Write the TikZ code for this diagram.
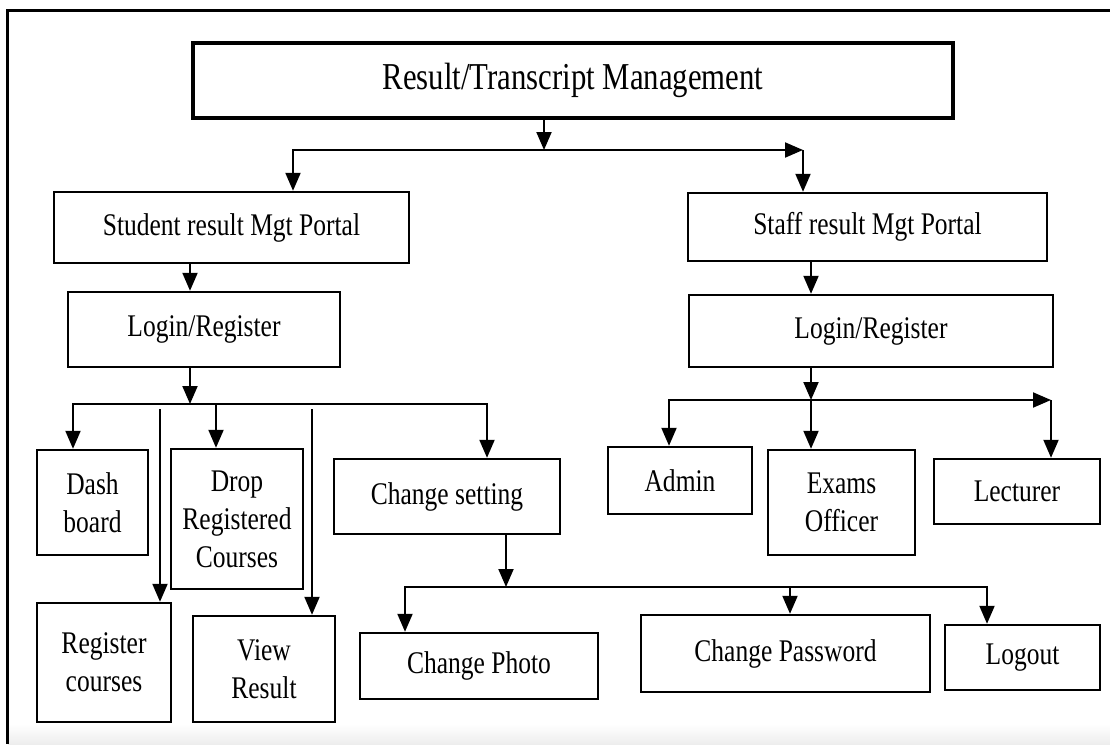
\documentclass[tikz,border=0pt]{standalone}
\usepackage{fontspec}
\setmainfont[FakeStretch=0.81]{Liberation Serif}
\usetikzlibrary{arrows.meta}
\begin{document}
\begin{tikzpicture}[x=1pt,y=-1pt,
  box/.style={draw, line width=2.4pt, inner sep=0pt, align=center,
    font=\fontsize{31.5}{38}\selectfont},
  link/.style={line width=2pt},
  arr/.style={link, -{Triangle[length=18pt,width=15pt]}},
  arrboth/.style={link, {Triangle[length=18pt,width=15pt]}-{Triangle[length=18pt,width=15pt]}},
]
\useasboundingbox (0,0) rectangle (1110,744);
% page frame and faint bottom band
\shade[top color=white, bottom color=black!7] (8,724) rectangle (1110,744);
\draw[line width=3pt] (1110,10) -- (7,10) -- (7,744);

% top level
\node[box, line width=3.4pt, minimum width=760pt, minimum height=75pt,
  font=\fontsize{38}{45}\selectfont] (title) at (573,80.5) {Result/Transcript Management};
\node[box, minimum width=355pt, minimum height=71pt] (student) at (231.5,227.5) {Student result Mgt Portal};
\node[box, minimum width=359pt, minimum height=68pt] (staff) at (867.5,227) {Staff result Mgt Portal};

% student branch
\node[box, minimum width=272pt, minimum height=75pt] (slogin) at (204,329.5) {Login/Register};
\node[box, minimum width=111pt, minimum height=105pt] (dash) at (92.5,502.5) {Dash\\board};
\node[box, minimum width=132pt, minimum height=140pt] (drop) at (237,519) {Drop\\Registered\\Courses};
\node[box, minimum width=226pt, minimum height=75pt] (chset) at (447,496.5) {Change setting};
\node[box, minimum width=134pt, minimum height=119pt] (reg) at (104,662.5) {Register\\courses};
\node[box, minimum width=142pt, minimum height=106pt] (view) at (264,669) {View\\Result};
\node[box, minimum width=238pt, minimum height=66pt] (photo) at (479,666) {Change Photo};
\node[box, minimum width=289pt, minimum height=77pt] (passwd) at (785.5,653.5) {Change Password};
\node[box, minimum width=155pt, minimum height=65pt] (logout) at (1022.5,657.5) {Logout};

% staff branch
\node[box, minimum width=364pt, minimum height=72pt] (tlogin) at (871,331) {Login/Register};
\node[box, minimum width=144pt, minimum height=67pt] (admin) at (680,480.5) {Admin};
\node[box, minimum width=147pt, minimum height=105pt] (exams) at (841.5,502.5) {Exams\\Officer};
\node[box, minimum width=166pt, minimum height=65pt] (lect) at (1017,491.5) {Lecturer};

% junction points on the connector bars
\coordinate (tj) at (544,150);
\coordinate (tl) at (293,150);
\coordinate (tr) at (803,150);
\coordinate (sj) at (190,404);
\coordinate (sl) at (73,404);
\coordinate (sd) at (216,404);
\coordinate (sc) at (487,404);
\coordinate (sr) at (160,409);
\coordinate (sv) at (312,409);
\coordinate (cj) at (506,587);
\coordinate (cl) at (405,587);
\coordinate (cp) at (790,587);
\coordinate (cr) at (987,587);
\coordinate (rj) at (811,400);
\coordinate (rl) at (669,400);
\coordinate (rr) at (1051,400);

% top connectors
\draw[arr] (title.south -| tj) -- (tj);
\draw[arrboth] (student.north -| tl) -- (tl) -- (tr);
\draw[arr] (tr) -- (staff.north -| tr);

% student connectors
\draw[arr] (student.south -| sj) -- (slogin.north -| sj);
\draw[arr] (slogin.south -| sj) -- (sj);
\draw[arrboth] (dash.north -| sl) -- (sl) -- (sc) -- (chset.north -| sc);
\draw[arr] (sd) -- (drop.north -| sd);
\draw[arr] (sr) -- (reg.north -| sr);
\draw[arr] (sv) -- (view.north -| sv);

% settings connectors
\draw[arr] (chset.south -| cj) -- (cj);
\draw[arrboth] (photo.north -| cl) -- (cl) -- (cr) -- (logout.north -| cr);
\draw[arr] (cp) -- (passwd.north -| cp);

% staff connectors
\draw[arr] (staff.south -| rj) -- (tlogin.north -| rj);
\draw[arr] (tlogin.south -| rj) -- (rj);
\draw[arrboth] (admin.north -| rl) -- (rl) -- (rr);
\draw[arr] (rr) -- (lect.north -| rr);
\draw[arr] (rj) -- (exams.north -| rj);
\end{tikzpicture}
\end{document}
